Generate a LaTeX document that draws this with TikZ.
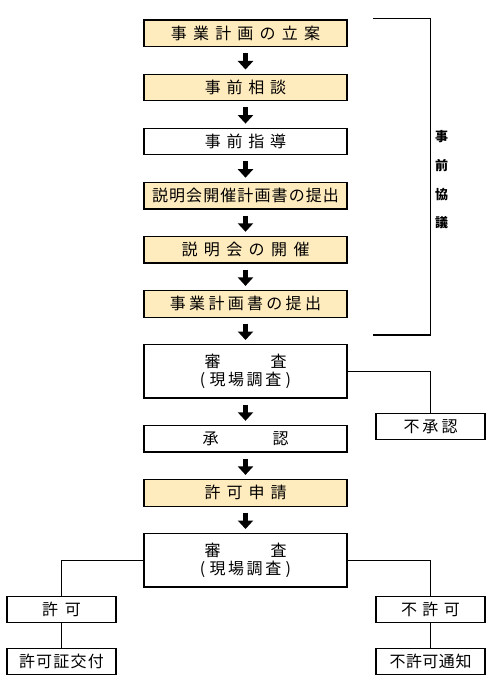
\documentclass[tikz,border=0pt]{standalone}
\usepackage{fontspec}
\setmainfont{Noto Sans CJK JP}
\usetikzlibrary{positioning,arrows.meta}
\definecolor{planfill}{RGB}{255,236,190}
\newcommand\spread[2]{\foreach \ch [count=\i] in {#2}{\ifnum\i>1\hspace{#1}\fi\ch}}

\begin{document}
\begin{tikzpicture}
[x=1pt,y=1pt,
every node/.style={draw,line width=1.2pt,minimum width=203pt,minimum height=26.6pt,
  inner sep=0pt,align=center,font=\fontsize{16}{18.5}\selectfont},
plan/.style={fill=planfill},
side/.style={minimum width=109pt},
node distance=26.3pt,
flow/.style={line width=4.6pt,-{Triangle[width=15pt,length=8.5pt]},shorten <=6pt,shorten >=4pt},
link/.style={line width=1.3pt},
]
\useasboundingbox (0,0) rectangle (500,-685);
\node[plan] (idea) at (245.5,-33.3) {\spread{6.2pt}{事,業,計,画,の,立,案}};
\node[plan,below=of idea] (consult) {\spread{5.8pt}{事,前,相,談}};
\node[below=of consult] (guide) {\spread{5.8pt}{事,前,指,導}};
\node[plan,below=of guide] (meetplan) {\spread{1.1pt}{説,明,会,開,催,計,画,書,の,提,出}};
\node[plan,below=of meetplan] (meeting) {\spread{6.4pt}{説,明,会,の,開,催}};
\node[plan,below=of meeting] (submit) {\spread{3.3pt}{事,業,計,画,書,の,提,出}};
\node[below=of submit,minimum height=53.3pt] (review) {審\hspace{50pt}査\\{(}\hspace{4.5pt}\spread{2.5pt}{現,場,調,査}\hspace{4.5pt}{)}};
\node[below=of review] (approve) {承\hspace{54pt}認};
\node[plan,below=of approve] (apply) {\spread{6pt}{許,可,申,請}};
\node[below=of apply,minimum height=53.3pt] (review2) {審\hspace{50pt}査\\{(}\hspace{4.5pt}\spread{2.5pt}{現,場,調,査}\hspace{4.5pt}{)}};
\node[side] (reject) at (430.5,-426.5) {\spread{3pt}{不,承,認}};
\node[side] (permit) at (61.5,-609.5) {\spread{7pt}{許,可}};
\node[side] (issue) at (61.5,-661.5) {\spread{1.25pt}{許,可,証,交,付}};
\node[side] (deny) at (430.5,-609.5) {\spread{5.5pt}{不,許,可}};
\node[side] (notice) at (430.5,-661.5) {\spread{0.5pt}{不,許,可,通,知}};
\node[draw=none,minimum width=0pt,minimum height=0pt,font=\fontsize{13}{28.7}\selectfont\bfseries] (talk) at (441.5,-180) {事\\前\\協\\議};
\coordinate (bt) at (373,-18.3);
\coordinate (bb) at (373,-335);
\foreach \a/\b in {idea/consult,consult/guide,guide/meetplan,meetplan/meeting,meeting/submit,submit/review,review/approve,approve/apply,apply/review2}
  \draw[flow] (\a) -- (\b);
\draw[link] (bt) -- (bt -| reject) -- (bb -| reject) -- (bb);
\draw[link] (review.east) -| (reject.north);
\draw[link] (review2.west) -| (permit.north);
\draw[link] (review2.east) -| (deny.north);
\draw[link] (permit) -- (issue);
\draw[link] (deny) -- (notice);
\end{tikzpicture}
\end{document}
